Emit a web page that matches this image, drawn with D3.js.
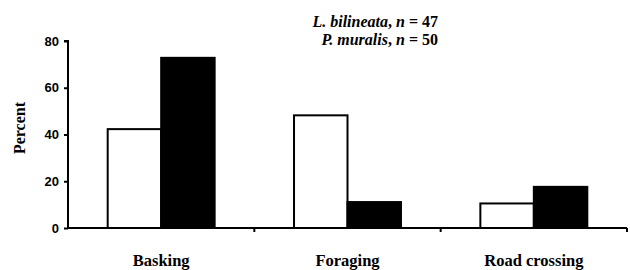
<!DOCTYPE html>
<html><head><meta charset="utf-8">
<script src="https://cdn.jsdelivr.net/npm/d3@7"></script>
<style>body{margin:0;background:#fff}
.serif{font-family:'Liberation Serif','Times New Roman',serif;font-weight:bold}
.sans{font-family:'Liberation Sans',Arial,sans-serif;font-weight:bold}
</style>
</head><body>
<svg id="c" width="630" height="270"></svg>
<script>
const categories = ["Basking", "Foraging", "Road crossing"];
const lbilineata = [42.3, 48.2, 10.5];
const pmuralis = [72.8, 11.1, 17.6];
const yTicks = [0, 20, 40, 60, 80];

const svg = d3.select("#c");
const m = {l: 68, r: 627, t: 41, b: 228};
const x = d3.scaleBand().domain(categories).range([m.l, m.r]);
const y = d3.scaleLinear().domain([0, 80]).range([m.b, m.t]);
const barW = x.bandwidth() * 0.287;

const series = [{vals: lbilineata, fill: "#fff", off: 0}, {vals: pmuralis, fill: "#000", off: 1}];
series.forEach(s => {
  svg.append("g").selectAll("rect").data(categories).join("rect")
    .attr("x", d => x(d) + x.bandwidth()/2 - barW + s.off*barW)
    .attr("y", (d,i) => y(s.vals[i]))
    .attr("width", barW)
    .attr("height", (d,i) => y(0) - y(s.vals[i]))
    .attr("fill", s.fill).attr("stroke", "#000").attr("stroke-width", 2);
});

// y axis
const ya = svg.append("g").attr("transform", `translate(${m.l},0)`)
  .call(d3.axisLeft(y).tickValues(yTicks).tickSize(4).tickPadding(5));
ya.attr("font-family", null);
ya.select(".domain").attr("stroke-width", 2).attr("d", `M-4,${m.t}H0V${m.b}`);
ya.selectAll(".tick line").attr("stroke-width", 2);
ya.selectAll("text").attr("class", "sans").attr("font-size", 13).attr("fill", "#000");

// x axis
const xa = svg.append("g").attr("transform", `translate(0,${m.b})`);
xa.append("path").attr("d", `M${m.l},0H${m.r}`).attr("stroke", "#000").attr("stroke-width", 2).attr("fill", "none");
const bounds = categories.map(c => x(c) + x.bandwidth());
xa.selectAll("line").data(bounds).join("line")
  .attr("x1", d => d).attr("x2", d => d).attr("y1", 0).attr("y2", 4)
  .attr("stroke", "#000").attr("stroke-width", 2);
svg.append("g").selectAll("text").data(categories).join("text")
  .attr("class", "serif")
  .attr("x", d => x(d) + x.bandwidth()/2).attr("y", 266)
  .attr("text-anchor", "middle")
  .attr("font-size", 16.5)
  .text(d => d);

svg.append("text").attr("class", "serif").attr("transform", "translate(25,128) rotate(-90)")
  .attr("text-anchor", "middle")
  .attr("font-size", 16).text("Percent");

const legend = [
  {name: "L. bilineata", n: 47, yy: 26.5},
  {name: "P. muralis", n: 50, yy: 45}
];
legend.forEach(l => {
  const t = svg.append("text").attr("class", "serif").attr("x", 438).attr("y", l.yy).attr("text-anchor", "end")
    .attr("font-size", 16);
  t.append("tspan").attr("font-style", "italic").text(l.name);
  t.append("tspan").text(", ");
  t.append("tspan").attr("font-style", "italic").text("n");
  t.append("tspan").text(" = " + l.n);
});
</script>
</body></html>
